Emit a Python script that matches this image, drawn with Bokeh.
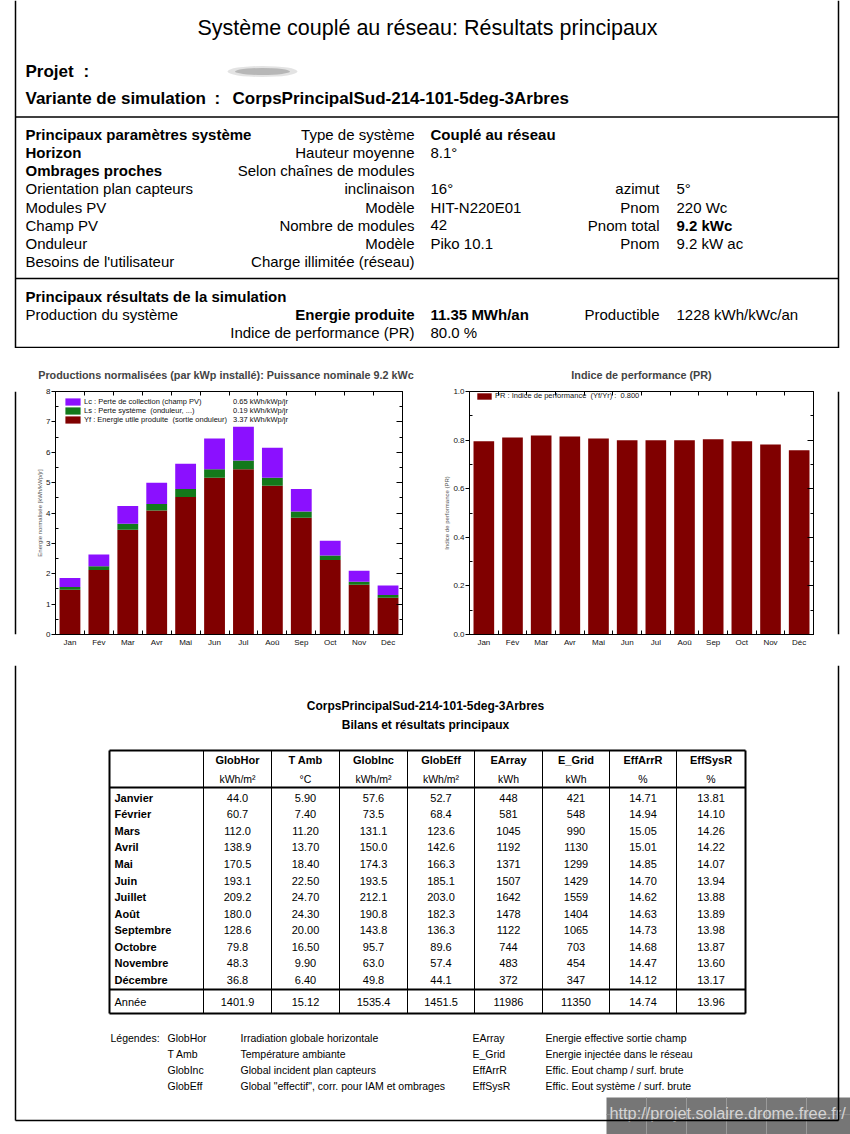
from bokeh.plotting import figure
from bokeh.layouts import column, row
from bokeh.models import (Range1d, LinearAxis, FixedTicker, Legend, LegendItem,
                          ColumnDataSource, NumeralTickFormatter, CustomJSTickFormatter)
from bokeh.core.properties import value
from bokeh.embed import file_html
from bokeh.resources import INLINE

FONT = "Liberation Sans"

# ---------------- data ----------------
page_title = "Système couplé au réseau: Résultats principaux"
variant = "CorpsPrincipalSud-214-101-5deg-3Arbres"

col1 = ["Principaux paramètres système", "Horizon", "Ombrages proches", "Orientation plan capteurs",
        "Modules PV", "Champ PV", "Onduleur", "Besoins de l'utilisateur"]
col1_bold = [True, True, True, False, False, False, False, False]
col2 = ["Type de système", "Hauteur moyenne", "Selon chaînes de modules", "inclinaison",
        "Modèle", "Nombre de modules", "Modèle", "Charge illimitée (réseau)"]
col3 = ["Couplé au réseau", "8.1°", "", "16°", "HIT-N220E01", "42", "Piko 10.1", ""]
col3_bold = [True, False, False, False, False, False, False, False]
col4 = ["", "", "", "azimut", "Pnom", "Pnom total", "Pnom", ""]
col5 = ["", "", "", "5°", "220 Wc", "9.2 kWc", "9.2 kW ac", ""]
col5_bold = [False, False, False, False, False, True, False, False]

res_head = "Principaux résultats de la simulation"
res_col1 = ["Production du système", ""]
res_col2 = ["Energie produite", "Indice de performance (PR)"]
res_col2_bold = [True, False]
res_col3 = ["11.35 MWh/an", "80.0 %"]
res_col3_bold = [True, False]
res_col4 = ["Productible", ""]
res_col5 = ["1228 kWh/kWc/an", ""]

months = ["Jan", "Fév", "Mar", "Avr", "Mai", "Jun", "Jul", "Aoû", "Sep", "Oct", "Nov", "Déc"]
yf = [1.47, 2.12, 3.45, 4.08, 4.53, 5.16, 5.44, 4.90, 3.84, 2.45, 1.64, 1.21]
ls = [0.09, 0.13, 0.20, 0.22, 0.26, 0.28, 0.29, 0.26, 0.21, 0.15, 0.10, 0.09]
lc = [0.30, 0.38, 0.58, 0.70, 0.83, 1.01, 1.11, 0.99, 0.74, 0.49, 0.36, 0.31]
pr = [0.795, 0.811, 0.819, 0.815, 0.807, 0.799, 0.799, 0.799, 0.803, 0.795, 0.782, 0.758]

chart1_title = "Productions normalisées  (par kWp installé):  Puissance nominale 9.2 kWc"
chart1_ylabel = "Energie normalisée [kWh/kWp/jr]"
chart1_legend = ["Lc : Perte de collection (champ PV)", "Ls : Perte système  (onduleur, ...)",
                 "Yf : Energie utile produite  (sortie onduleur)"]
chart1_legend_vals = ["0.65 kWh/kWp/jr", "0.19 kWh/kWp/jr", "3.37 kWh/kWp/jr"]
chart2_title = "Indice de performance (PR)"
chart2_ylabel = "Indice de performance (PR)"
chart2_legend = "PR : Indice de performance  (Yf/Yr) :  0.800"

table_title = "CorpsPrincipalSud-214-101-5deg-3Arbres"
table_subtitle = "Bilans et résultats principaux"
headers = ["GlobHor", "T Amb", "GlobInc", "GlobEff", "EArray", "E_Grid", "EffArrR", "EffSysR"]
units = ["kWh/m²", "°C", "kWh/m²", "kWh/m²", "kWh", "kWh", "%", "%"]
table_months = ["Janvier", "Février", "Mars", "Avril", "Mai", "Juin", "Juillet", "Août",
                "Septembre", "Octobre", "Novembre", "Décembre"]
glob_hor = [44.0, 60.7, 112.0, 138.9, 170.5, 193.1, 209.2, 180.0, 128.6, 79.8, 48.3, 36.8]
t_amb = [5.90, 7.40, 11.20, 13.70, 18.40, 22.50, 24.70, 24.30, 20.00, 16.50, 9.90, 6.40]
glob_inc = [57.6, 73.5, 131.1, 150.0, 174.3, 193.5, 212.1, 190.8, 143.8, 95.7, 63.0, 49.8]
glob_eff = [52.7, 68.4, 123.6, 142.6, 166.3, 185.1, 203.0, 182.3, 136.3, 89.6, 57.4, 44.1]
e_array = [448, 581, 1045, 1192, 1371, 1507, 1642, 1478, 1122, 744, 483, 372]
e_grid = [421, 548, 990, 1130, 1299, 1429, 1559, 1404, 1065, 703, 454, 347]
eff_arr = [14.71, 14.94, 15.05, 15.01, 14.85, 14.70, 14.62, 14.63, 14.73, 14.68, 14.47, 14.12]
eff_sys = [13.81, 14.10, 14.26, 14.22, 14.07, 13.94, 13.88, 13.89, 13.98, 13.87, 13.60, 13.17]
year_label = "Année"
year_vals = ["1401.9", "15.12", "1535.4", "1451.5", "11986", "11350", "14.74", "13.96"]

legend_title = "Légendes:"
leg_codes_l = ["GlobHor", "T Amb", "GlobInc", "GlobEff"]
leg_desc_l = ["Irradiation globale horizontale", "Température ambiante",
              "Global incident plan capteurs", 'Global "effectif", corr. pour IAM et ombrages']
leg_codes_r = ["EArray", "E_Grid", "EffArrR", "EffSysR"]
leg_desc_r = ["Energie effective sortie champ", "Energie injectée dans le réseau",
              "Effic. Eout champ / surf. brute", "Effic. Eout système / surf. brute"]
watermark = "http://projet.solaire.drome.free.fr/"

# ---------------- style ----------------
C_YF, C_LS, C_LC = "#800000", "#12791a", "#8b10ff"
BL, BR = 15, 838          # page border x
TOP_H, MID_H, BOT_H = 348, 317, 469


def add_texts(p, xs, ys, texts, size, bold=False, align="left", color="black"):
    keep = [(x, y, t) for x, y, t in zip(xs, ys, texts) if t]
    if not keep:
        return
    src = ColumnDataSource(dict(x=[k[0] for k in keep], y=[k[1] for k in keep], t=[k[2] for k in keep]))
    p.text(x="x", y="y", text="t", source=src, text_font=value(FONT), text_font_size=size,
           text_font_style="bold" if bold else "normal", text_align=align,
           text_baseline="middle", text_color=color)


def page_fig(width, height, x0, y0):
    p = figure(width=width, height=height, x_range=Range1d(x0, x0 + width),
               y_range=Range1d(y0 + height, y0), x_axis_type=None, y_axis_type=None,
               output_backend="svg", toolbar_location=None, min_border=0)
    p.outline_line_color = None
    p.background_fill_color = "white"
    p.border_fill_color = "white"
    return p


# ---------------- top section ----------------
top = page_fig(850, TOP_H, 0, 0)
top.segment(x0=[BL, BR], y0=[0, 0], x1=[BL, BR], y1=[TOP_H, TOP_H], line_color="black", line_width=1.5)
top.segment(x0=[BL] * 3, y0=[116.5, 278, 347], x1=[BR] * 3, y1=[116.5, 278, 347], line_color="black", line_width=1.5)

add_texts(top, [427], [27], [page_title], "21.5px", align="center")
# blurred project name
top.ellipse(x=[262], y=[71], width=[70], height=[11], fill_color="#c8c8c8", fill_alpha=0.5, line_color=None)
top.ellipse(x=[262], y=[71], width=[55], height=[7], fill_color="#9a9a9a", fill_alpha=0.6, line_color=None)
add_texts(top, [25, 83, 25, 214, 232], [71, 71, 98, 98, 98],
          ["Projet", ":", "Variante de simulation", ":", variant], "17px", bold=True)

row_y = [134, 152, 170, 188.3, 206.5, 224.7, 242.8, 261]
X1, X2, X3, X4, X5 = 25, 414, 430, 659, 676
for bold in (True, False):
    add_texts(top, [X1] * 8, row_y, [t if b == bold else "" for t, b in zip(col1, col1_bold)], "15px", bold=bold)
    add_texts(top, [X3] * 8, row_y, [t if b == bold else "" for t, b in zip(col3, col3_bold)], "15px", bold=bold)
    add_texts(top, [X5] * 8, row_y, [t if b == bold else "" for t, b in zip(col5, col5_bold)], "15px", bold=bold)
add_texts(top, [X2] * 8, row_y, col2, "15px", align="right")
add_texts(top, [X4] * 8, row_y, col4, "15px", align="right")

res_y = [314, 332]
add_texts(top, [X1], [296], [res_head], "15px", bold=True)
add_texts(top, [X1] * 2, res_y, res_col1, "15px")
for bold in (True, False):
    add_texts(top, [X2] * 2, res_y, [t if b == bold else "" for t, b in zip(res_col2, res_col2_bold)], "15px",
              bold=bold, align="right")
    add_texts(top, [X3] * 2, res_y, [t if b == bold else "" for t, b in zip(res_col3, res_col3_bold)], "15px",
              bold=bold)
add_texts(top, [X4] * 2, res_y, res_col4, "15px", align="right")
add_texts(top, [X5] * 2, res_y, res_col5, "15px")

# ---------------- charts ----------------
xs = list(range(1, len(months) + 1))
empty_fmt = CustomJSTickFormatter(code="return ''")


def make_chart(width, left, right, y_end, ymaj, ymin, ylabel, title):
    p = figure(width=width, height=MID_H, x_range=Range1d(0.5, len(months) + 0.5),
               y_range=Range1d(0, y_end), output_backend="svg", toolbar_location=None,
               min_border_left=left, min_border_right=right, min_border_top=43, min_border_bottom=31)
    p.grid.visible = False
    p.outline_line_color = "black"
    p.background_fill_color = "white"
    p.border_fill_color = "white"
    xt = FixedTicker(ticks=xs, minor_ticks=[x + 0.5 for x in xs[:-1]])
    yt = FixedTicker(ticks=ymaj, minor_ticks=ymin)

    ax = p.xaxis[0]
    ax.ticker = xt
    ax.major_label_overrides = {x: m for x, m in zip(xs, months)}
    ax.major_tick_in = 0
    ax.major_tick_out = 0
    ax.minor_tick_in = 4
    ax.minor_tick_out = 0
    ax.major_label_standoff = 3
    ax.major_label_text_font = FONT
    ax.major_label_text_font_size = "8px"
    ax.major_label_text_color = "#111111"

    ay = p.yaxis[0]
    ay.ticker = yt
    ay.major_tick_in = 0
    ay.major_tick_out = 4
    ay.minor_tick_in = 3
    ay.minor_tick_out = 0
    ay.major_label_standoff = 1
    ay.major_label_text_font = FONT
    ay.major_label_text_font_size = "8px"
    ay.major_label_text_color = "#111111"
    ay.axis_label = ylabel
    ay.axis_label_text_font = FONT
    ay.axis_label_text_font_size = "6px"
    ay.axis_label_text_font_style = "normal"
    ay.axis_label_text_color = "#555555"
    ay.axis_label_standoff = 0

    ar = LinearAxis(ticker=yt, formatter=empty_fmt, major_tick_in=6, major_tick_out=0,
                    minor_tick_in=3, minor_tick_out=0, major_label_standoff=0)
    p.add_layout(ar, "right")
    at = LinearAxis(ticker=xt, formatter=empty_fmt, major_tick_in=0, major_tick_out=0,
                    minor_tick_in=4, minor_tick_out=0, major_label_standoff=0)
    p.add_layout(at, "above")

    p.title.text = title
    p.title.align = "center"
    p.title.text_font = FONT
    p.title.text_font_size = "10.8px"
    p.title.text_font_style = "bold"
    p.title.standoff = 21
    return p


p1 = make_chart(416, 35, 34, 8, list(range(0, 9)), [i + 0.5 for i in range(8)], chart1_ylabel, chart1_title)
src1 = ColumnDataSource(dict(x=xs, yf=yf, ls=ls, lc=lc))
rs = p1.vbar_stack(["yf", "ls", "lc"], x="x", width=0.72, source=src1,
                   color=[C_YF, C_LS, C_LC], line_color=None)


def style_legend(lg, gw, gh):
    lg.glyph_width = gw
    lg.glyph_height = gh
    lg.label_height = gh
    lg.spacing = 0
    lg.padding = 0
    lg.margin = 0
    lg.label_standoff = 2
    lg.label_text_font = FONT
    lg.label_text_font_size = "7.5px"
    lg.label_text_color = "#111111"
    lg.border_line_color = None
    lg.background_fill_alpha = 0


order = [rs[2], rs[1], rs[0]]
leg1 = Legend(items=[LegendItem(label=value(t), renderers=[r]) for t, r in zip(chart1_legend, order)],
              location=(8, 210))
style_legend(leg1, 19, 9)
p1.add_layout(leg1)
leg1v = Legend(items=[LegendItem(label=value(t), renderers=[r]) for t, r in zip(chart1_legend_vals, order)],
               location=(178, 210))
style_legend(leg1v, 0, 9)
leg1v.label_standoff = 0
p1.add_layout(leg1v)

p2 = make_chart(396, 33, 19, 1.0, [0, 0.2, 0.4, 0.6, 0.8, 1.0], [0.1, 0.3, 0.5, 0.7, 0.9],
                chart2_ylabel, chart2_title)
p2.yaxis[0].formatter = NumeralTickFormatter(format="0.0")
src2 = ColumnDataSource(dict(x=xs, pr=pr))
r2 = p2.vbar(x="x", top="pr", width=0.72, source=src2, color=C_YF, line_color=None)
leg2 = Legend(items=[LegendItem(label=value(chart2_legend), renderers=[r2])], location=(6, 234))
style_legend(leg2, 18, 8)
p2.add_layout(leg2)

sp_l = page_fig(20, MID_H, 0, TOP_H)
sp_l.segment(x0=[BL], y0=[TOP_H], x1=[BL], y1=[TOP_H + MID_H], line_color="black", line_width=1.5)
sp_r = page_fig(18, MID_H, 832, TOP_H)
sp_r.segment(x0=[BR], y0=[TOP_H], x1=[BR], y1=[TOP_H + MID_H], line_color="black", line_width=1.5)

# ---------------- table section ----------------
Y0 = TOP_H + MID_H
bot = page_fig(850, BOT_H, 0, Y0)

add_texts(bot, [425], [705], [table_title], "12px", bold=True, align="center")
add_texts(bot, [425], [724], [table_subtitle], "12px", bold=True, align="center")

edges = [109, 203, 271, 339, 407, 474, 542, 609, 676, 745]
T_TOP, T_HDR, T_YR, T_BOT = 750, 787, 989, 1013
centers = [(a + b) / 2 for a, b in zip(edges[1:-1], edges[2:])]
bot.segment(x0=edges[1:-1], y0=[T_TOP] * 8, x1=edges[1:-1], y1=[T_BOT] * 8, line_color="black", line_width=1)
bot.segment(x0=[edges[0], edges[0], edges[0], edges[0]], y0=[T_TOP, T_HDR, T_YR, T_BOT],
            x1=[edges[-1]] * 4, y1=[T_TOP, T_HDR, T_YR, T_BOT], line_color="black", line_width=2)
bot.segment(x0=[edges[0], edges[-1]], y0=[T_TOP, T_TOP], x1=[edges[0], edges[-1]], y1=[T_BOT, T_BOT],
            line_color="black", line_width=2)

add_texts(bot, centers, [759] * 8, headers, "11px", bold=True, align="center")
add_texts(bot, centers, [778] * 8, units, "10.5px", align="center")
row_ys = [797.3 + 16.55 * i for i in range(len(table_months))]
add_texts(bot, [114] * 12, row_ys, table_months, "11px", bold=True)
cols = [[f"{v:.1f}" for v in glob_hor], [f"{v:.2f}" for v in t_amb], [f"{v:.1f}" for v in glob_inc],
        [f"{v:.1f}" for v in glob_eff], [f"{v:d}" for v in e_array], [f"{v:d}" for v in e_grid],
        [f"{v:.2f}" for v in eff_arr], [f"{v:.2f}" for v in eff_sys]]
for cx, colv in zip(centers, cols):
    add_texts(bot, [cx] * 12, row_ys, colv, "11px", align="center")
add_texts(bot, [114], [1001], [year_label], "11px")
add_texts(bot, centers, [1001] * 8, year_vals, "11px", align="center")

leg_y = [1037, 1053, 1069, 1085]
add_texts(bot, [110], [1037], [legend_title], "10.5px")
add_texts(bot, [167] * 4, leg_y, leg_codes_l, "10.5px")
add_texts(bot, [240] * 4, leg_y, leg_desc_l, "10.5px")
add_texts(bot, [472] * 4, leg_y, leg_codes_r, "10.5px")
add_texts(bot, [545] * 4, leg_y, leg_desc_r, "10.5px")

# watermark
bot.quad(left=[606], right=[850], top=[1097], bottom=[1140], fill_color="#767676", line_color=None)
bot.segment(x0=[646, 686, 726, 766, 806], y0=[1097] * 5, x1=[646, 686, 726, 766, 806], y1=[1140] * 5,
            line_color="#9a9a9a", line_width=1)
bot.segment(x0=[606], y0=[1114], x1=[850], y1=[1114], line_color="#8c8c8c", line_width=1)
add_texts(bot, [609], [1112], [watermark], "16.3px", color="#d4d4d4")

# page border
bot.segment(x0=[BL, BR], y0=[Y0, Y0], x1=[BL, BR], y1=[1120, 1120], line_color="black", line_width=1.5)
bot.segment(x0=[BL], y0=[1120], x1=[BR], y1=[1120], line_color="black", line_width=1.5)

layout = column(top, row(sp_l, p1, p2, sp_r), bot)
open("out.html", "w").write(file_html(layout, INLINE))
